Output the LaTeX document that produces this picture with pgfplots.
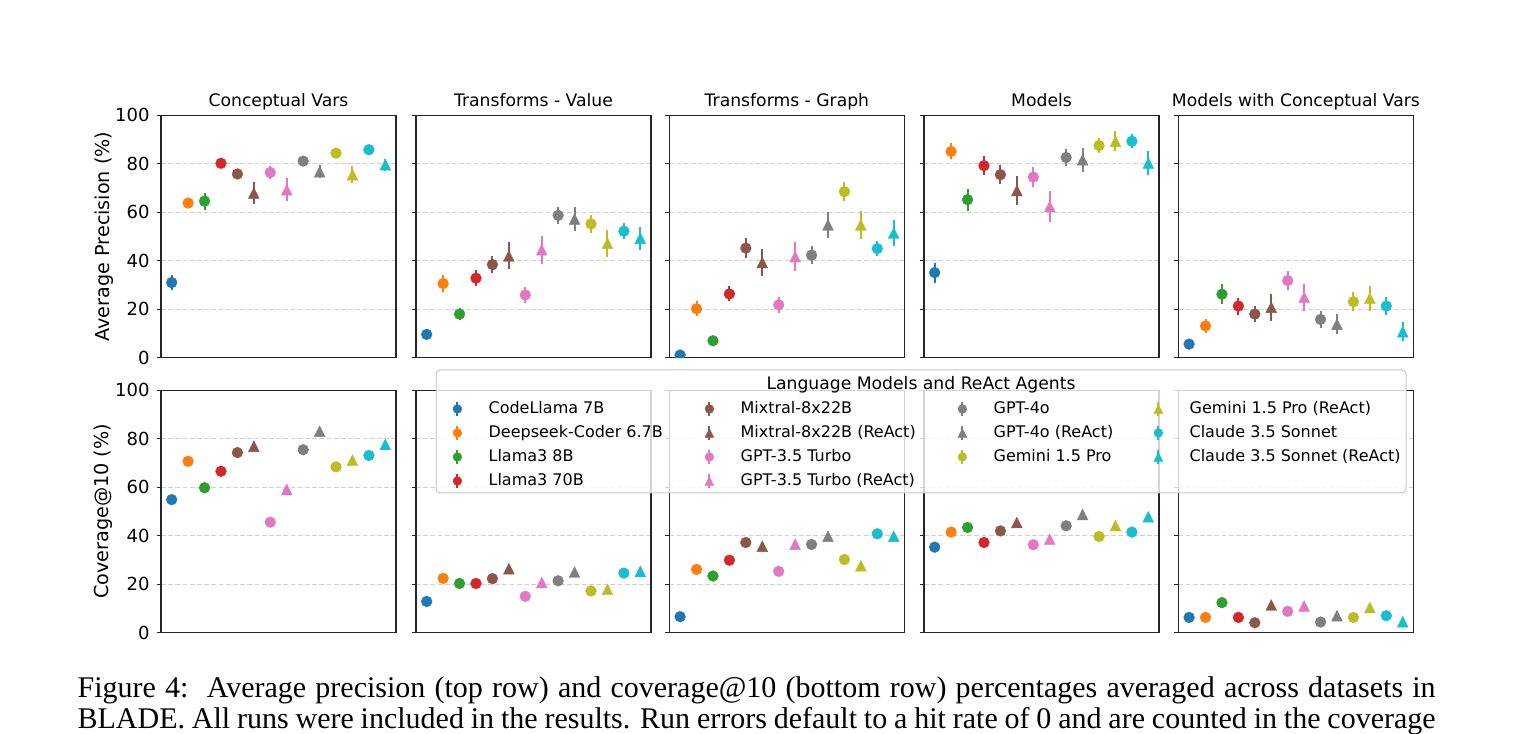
\documentclass[border=0pt]{standalone}
\usepackage{fontspec}
\setmainfont{DejaVu Sans}
\newfontfamily\capfont{Liberation Serif}
\usepackage{pgfplots}
\usepackage{pgfplotstable}
\pgfplotsset{compat=1.18}

% tab10 colours
\definecolor{cBlue}{HTML}{1F77B4}
\definecolor{cOrange}{HTML}{FF7F0E}
\definecolor{cGreen}{HTML}{2CA02C}
\definecolor{cRed}{HTML}{D62728}
\definecolor{cBrown}{HTML}{8C564B}
\definecolor{cPink}{HTML}{E377C2}
\definecolor{cGray}{HTML}{7F7F7F}
\definecolor{cOlive}{HTML}{BCBD22}
\definecolor{cCyan}{HTML}{17BECF}

% upward triangle as tall as it is wide
\pgfdeclareplotmark{tri}{%
  \pgfpathmoveto{\pgfqpoint{0pt}{\pgfplotmarksize}}%
  \pgfpathlineto{\pgfqpoint{-\pgfplotmarksize}{-\pgfplotmarksize}}%
  \pgfpathlineto{\pgfqpoint{\pgfplotmarksize}{-\pgfplotmarksize}}%
  \pgfpathclose
  \pgfusepathqfillstroke}

% one style per model, in plotting order
\tikzset{
  m0/.style={cBlue, mark=*},    % CodeLlama 7B
  m1/.style={cOrange, mark=*},  % Deepseek-Coder 6.7B
  m2/.style={cGreen, mark=*},   % Llama3 8B
  m3/.style={cRed, mark=*},     % Llama3 70B
  m4/.style={cBrown, mark=*},   % Mixtral-8x22B
  m5/.style={cBrown, mark=tri}, % Mixtral-8x22B (ReAct)
  m6/.style={cPink, mark=*},    % GPT-3.5 Turbo
  m7/.style={cPink, mark=tri},  % GPT-3.5 Turbo (ReAct)
  m8/.style={cGray, mark=*},    % GPT-4o
  m9/.style={cGray, mark=tri},  % GPT-4o (ReAct)
  m10/.style={cOlive, mark=*},  % Gemini 1.5 Pro
  m11/.style={cOlive, mark=tri},% Gemini 1.5 Pro (ReAct)
  m12/.style={cCyan, mark=*},   % Claude 3.5 Sonnet
  m13/.style={cCyan, mark=tri}, % Claude 3.5 Sonnet (ReAct)
}

% x = model index, ap = average precision, ape = its error, cov = coverage@10
\pgfplotstableread{
x ap ape cov
0 31.0 3.0 54.9
1 63.8 1.5 70.7
2 64.6 3.5 59.8
3 80.2 1.5 66.6
4 75.8 1.5 74.3
5 67.9 4.5 76.9
6 76.4 2.5 45.6
7 69.3 4.7 59.1
8 81.1 1.5 75.5
9 76.7 2.7 83.1
10 84.4 1.5 68.4
11 75.5 3.6 71.2
12 85.8 1.5 73.1
13 79.6 2.4 77.7
}\tabCV

\pgfplotstableread{
x ap ape cov
0 9.6 1.0 12.9
1 30.6 3.4 22.4
2 18.0 2.5 20.3
3 32.8 3.4 20.3
4 38.4 3.6 22.3
5 42.0 5.6 26.4
6 25.9 3.4 15.0
7 44.5 5.7 20.7
8 58.7 3.6 21.4
9 57.2 5.0 25.0
10 55.2 3.6 17.2
11 47.2 5.5 17.9
12 52.2 3.4 24.6
13 49.3 4.8 25.3
}\tabTV

\pgfplotstableread{
x ap ape cov
0 1.1 1.0 6.6
1 20.2 3.2 26.1
2 7.0 1.5 23.4
3 26.3 3.1 29.9
4 45.2 4.1 37.2
5 39.3 5.7 35.7
6 21.8 3.3 25.3
7 41.7 6.0 36.5
8 42.3 3.8 36.4
9 54.8 5.4 39.8
10 68.5 3.9 30.2
11 54.8 5.9 27.6
12 45.0 3.1 40.8
13 51.4 5.2 39.8
}\tabTG

\pgfplotstableread{
x ap ape cov
0 35.1 4.1 35.3
1 85.1 3.3 41.5
2 65.2 4.5 43.4
3 79.2 3.8 37.2
4 75.5 3.9 42.0
5 69.0 6.0 45.5
6 74.5 4.1 36.3
7 62.4 6.5 38.6
8 82.6 3.4 44.1
9 81.7 4.9 48.8
10 87.5 3.1 39.7
11 89.3 4.1 44.2
12 89.3 2.8 41.5
13 80.3 4.8 47.8
}\tabM

\pgfplotstableread{
x ap ape cov
0 5.6 1.0 6.3
1 13.1 2.8 6.3
2 26.2 4.0 12.4
3 21.3 3.5 6.3
4 18.0 3.4 4.1
5 20.8 5.5 11.4
6 31.8 3.9 8.8
7 24.9 5.5 11.0
8 15.8 3.4 4.4
9 13.8 4.1 7.0
10 23.1 3.8 6.3
11 24.5 5.2 10.4
12 21.3 3.6 7.0
13 10.7 3.9 4.5
}\tabMCV

% one plot per model: keep only the row whose x is that model's index
\newcommand{\precplots}[1]{%
  \pgfplotsinvokeforeach{0,...,13}{%
    \addplot[m##1, only marks, mark size=2.7pt, mark options={line width=0.2pt},
      restrict x to domain=##1:##1,
      error bars/.cd, y dir=both, y explicit, error mark=none,
      error bar style={line width=1pt}]
      table[x=x, y=ap, y error=ape] {#1};
  }}
\newcommand{\covplots}[1]{%
  \pgfplotsinvokeforeach{0,...,13}{%
    \addplot[m##1, only marks, mark size=2.7pt, mark options={line width=0.2pt},
      restrict x to domain=##1:##1]
      table[x=x, y=cov] {#1};
  }}

\pgfplotsset{
  panel/.style={
    anchor=south west, scale only axis, width=117.5pt, height=121.2pt,
    xmin=-0.65, xmax=13.65, ymin=0, ymax=100,
    xtick=\empty, ytick={0,20,40,60,80,100}, ytick pos=left,
    ymajorgrids, major grid style={dash pattern=on 2.4pt off 1.2pt, black!18, line width=0.45pt},
    axis line style={black!85, line width=0.7pt},
    tick style={black!85, line width=0.7pt},
    tick align=outside, major tick length=2.2pt,
    /pgf/number format/assume math mode=true,
    yticklabel style={font=\fontsize{9}{10}\selectfont},
    clip marker paths=true,
    every axis title shift=0pt,
    title style={at={(0.5,1)}, anchor=base, yshift=4.5pt, font=\fontsize{8.6}{10}\selectfont},
    ylabel style={at={(axis description cs:-0.2438,0.5)}, anchor=center, font=\fontsize{9.6}{11}\selectfont},
  },
  nolabels/.style={yticklabel=\empty},
  legendhost/.style={
    at={(0pt,0pt)}, anchor=south west, scale only axis, width=757pt, height=366.5pt,
    xmin=0, xmax=1, ymin=0, ymax=1, hide axis,
    legend style={anchor=north west, draw=none, fill=none, inner sep=0pt, outer sep=0pt,
      row sep=0pt, column sep=12.4pt, font=\fontsize{8}{9.6}\selectfont,
      nodes={inner sep=0pt, text height=7pt, text depth=5pt},
      cells={anchor=base west}},
    legend image code/.code={%
      \path (-3pt,0pt) (3pt,0pt);
      \draw[##1, line width=1pt] (0pt,-0.8pt) -- (0pt,5.8pt);
      \draw[##1, mark size=2.2pt, mark options={line width=0.2pt}] plot coordinates {(0pt,2.5pt)};},
  },
}

\begin{document}
\begin{tikzpicture}
% ---- top row: average precision
\begin{axis}[panel, at={(80.5pt,187.65pt)}, title={Conceptual Vars}, ylabel={Average Precision (\%)}]
\precplots{\tabCV}
\end{axis}
\begin{axis}[panel, nolabels, at={(208pt,187.65pt)}, title={Transforms - Value}]
\precplots{\tabTV}
\end{axis}
\begin{axis}[panel, nolabels, at={(334.7pt,187.65pt)}, title={Transforms - Graph}]
\precplots{\tabTG}
\end{axis}
\begin{axis}[panel, nolabels, at={(462pt,187.65pt)}, title={Models}]
\precplots{\tabM}
\end{axis}
\begin{axis}[panel, nolabels, at={(589.2pt,187.65pt)}, title={Models with Conceptual Vars}]
\precplots{\tabMCV}
\end{axis}
% ---- bottom row: coverage@10
\begin{axis}[panel, at={(80.5pt,50.15pt)}, ylabel={Coverage@10 (\%)}]
\covplots{\tabCV}
\end{axis}
\begin{axis}[panel, nolabels, at={(208pt,50.15pt)}]
\covplots{\tabTV}
\end{axis}
\begin{axis}[panel, nolabels, at={(334.7pt,50.15pt)}]
\covplots{\tabTG}
\end{axis}
\begin{axis}[panel, nolabels, at={(462pt,50.15pt)}]
\covplots{\tabM}
\end{axis}
\begin{axis}[panel, nolabels, at={(589.2pt,50.15pt)}]
\covplots{\tabMCV}
\end{axis}

% ---- shared legend
\draw[draw=black!22, line width=0.5pt, fill=white, fill opacity=0.8, rounded corners=2pt]
  (218pt,120pt) rectangle (703pt,181.5pt);
\node[anchor=base, inner sep=0pt, font=\fontsize{8.6}{10}\selectfont] at (460.5pt,171.5pt)
  {Language Models and ReAct Agents};
\begin{axis}[legendhost, legend style={at={(0.29789,0.45430)}}]
\addlegendimage{m0}\addlegendentry{CodeLlama 7B}
\addlegendimage{m1}\addlegendentry{Deepseek-Coder 6.7B}
\addlegendimage{m2}\addlegendentry{Llama3 8B}
\addlegendimage{m3}\addlegendentry{Llama3 70B}
\end{axis}
\begin{axis}[legendhost, legend style={at={(0.46433,0.45430)}}]
\addlegendimage{m4}\addlegendentry{Mixtral-8x22B}
\addlegendimage{m5}\addlegendentry{Mixtral-8x22B (ReAct)}
\addlegendimage{m6}\addlegendentry{GPT-3.5 Turbo}
\addlegendimage{m7}\addlegendentry{GPT-3.5 Turbo (ReAct)}
\end{axis}
\begin{axis}[legendhost, legend style={at={(0.63144,0.45430)}}]
\addlegendimage{m8}\addlegendentry{GPT-4o}
\addlegendimage{m9}\addlegendentry{GPT-4o (ReAct)}
\addlegendimage{m10}\addlegendentry{Gemini 1.5 Pro}
\end{axis}
\begin{axis}[legendhost, legend style={at={(0.76090,0.45430)}}]
\addlegendimage{m11}\addlegendentry{Gemini 1.5 Pro (ReAct)}
\addlegendimage{m12}\addlegendentry{Claude 3.5 Sonnet}
\addlegendimage{m13}\addlegendentry{Claude 3.5 Sonnet (ReAct)}
\end{axis}

% ---- caption
\node[anchor=base west, inner sep=0pt, font=\capfont\fontsize{15}{17}\selectfont] at (38.6pt,17.8pt)
  {\makebox[679pt][s]{Figure 4:\ \ Average precision (top row) and coverage@10 (bottom row) percentages averaged across datasets in}};
\node[anchor=base west, inner sep=0pt, font=\capfont\fontsize{15}{17}\selectfont] at (38.6pt,2pt)
  {\makebox[679pt][s]{BLADE. All runs were included in the results. Run errors default to a hit rate of 0 and are counted in the coverage}};

\pgfresetboundingbox
\path[use as bounding box] (0pt,0pt) rectangle (757pt,366.5pt);
\end{tikzpicture}
\end{document}
